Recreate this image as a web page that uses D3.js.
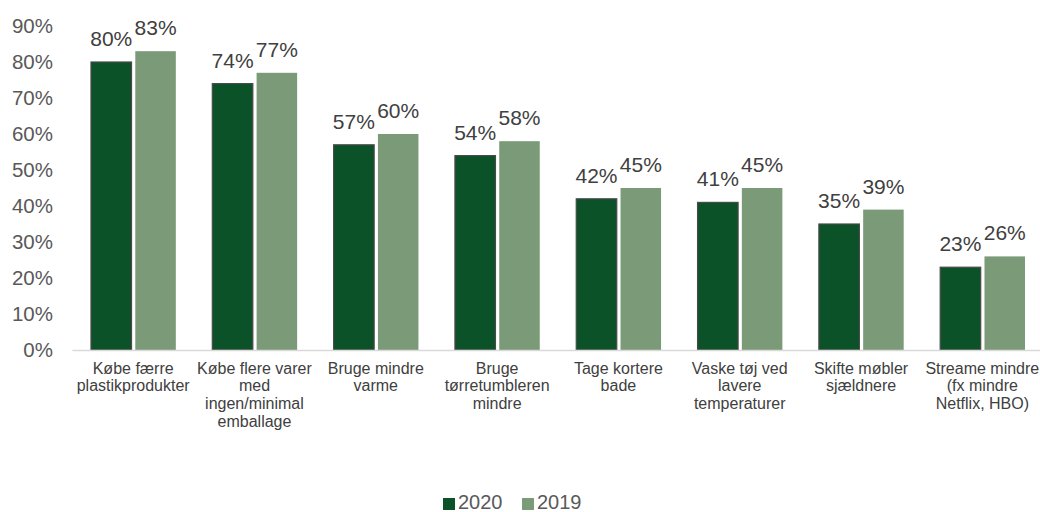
<!DOCTYPE html>
<html>
<head>
<meta charset="utf-8">
<script src="https://cdn.jsdelivr.net/npm/d3@7"></script>
<style>
  html, body { margin: 0; padding: 0; background: #fff; }
  svg { display: block; font-family: "Liberation Sans", Arial, sans-serif; }
</style>
</head>
<body>
<svg id="chart" width="1040" height="512"></svg>
<script>
// Category labels (line breaks as shown under each group)
const categories = [
  ["Købe færre", "plastikprodukter"],
  ["Købe flere varer", "med", "ingen/minimal", "emballage"],
  ["Bruge mindre", "varme"],
  ["Bruge", "tørretumbleren", "mindre"],
  ["Tage kortere", "bade"],
  ["Vaske tøj ved", "lavere", "temperaturer"],
  ["Skifte møbler", "sjældnere"],
  ["Streame mindre", "(fx mindre", "Netflix, HBO)"]
];
const values2020 = [80, 74, 57, 54, 42, 41, 35, 23];
const values2019 = [83, 77, 60, 58, 45, 45, 39, 26];
const seriesNames = ["2020", "2019"];
const yTicks = [0, 10, 20, 30, 40, 50, 60, 70, 80, 90];

const colors = { "2020": "#0b5229", "2019": "#7b9a78" };

const svg = d3.select("#chart");
const plotLeft = 72.5, plotRight = 1043, plotTop = 26, plotBottom = 350;

const x = d3.scaleBand().domain(d3.range(categories.length)).range([plotLeft, plotRight]).paddingInner(0).paddingOuter(0);
const xs = d3.scaleBand().domain(seriesNames).range([18.5, x.bandwidth() - 18]).paddingInner(0.085);
const y = d3.scaleLinear().domain([0, 90]).range([plotBottom, plotTop]);

// Y axis labels
const yAxis = d3.axisLeft(y).tickValues(yTicks).tickFormat(d => d + "%").tickSize(0).tickPadding(0);
const gy = svg.append("g").attr("transform", `translate(53,0)`).call(yAxis);
gy.select(".domain").remove();
gy.selectAll("text").attr("fill", "#595959").style("font-size", "20.5px").style("font-family", "Liberation Sans, Arial, sans-serif");

const data = categories.map((c, i) => ({ i, vals: [
  { s: "2020", v: values2020[i] },
  { s: "2019", v: values2019[i] }
]}));

const groups = svg.append("g").selectAll("g").data(data).join("g")
  .attr("transform", d => `translate(${x(d.i)},0)`);

groups.selectAll("rect").data(d => d.vals).join("rect")
  .attr("x", d => xs(d.s))
  .attr("width", xs.bandwidth())
  .attr("y", d => y(d.v))
  .attr("height", d => y(0) - y(d.v))
  .attr("fill", d => colors[d.s])
  .attr("stroke", d => d.s === "2020" ? "#4a4a4a" : "none")
  .attr("stroke-width", 1.2);

groups.selectAll("text.val").data(d => d.vals).join("text")
  .attr("class", "val")
  .attr("x", d => xs(d.s) + xs.bandwidth() / 2)
  .attr("y", d => y(d.v) - 16)
  .attr("text-anchor", "middle")
  .attr("fill", "#404040")
  .style("font-size", "21px")
  .text(d => d.v + "%");

// Baseline
svg.append("line")
  .attr("x1", plotLeft).attr("x2", plotRight)
  .attr("y1", y(0) + 0.5).attr("y2", y(0) + 0.5)
  .attr("stroke", "#d9d9d9").attr("stroke-width", 1.5);

// Category labels
const xAxisG = svg.append("g");
categories.forEach((lines, i) => {
  const cx = x(i) + x.bandwidth() / 2;
  const t = xAxisG.append("text")
    .attr("x", cx)
    .attr("y", 373.5)
    .attr("text-anchor", "middle")
    .attr("fill", "#404040")
    .style("font-size", "16px");
  lines.forEach((ln, k) => {
    t.append("tspan").attr("x", cx).attr("dy", k === 0 ? 0 : 17.8).text(ln);
  });
});

// Legend
const legend = svg.append("g").attr("transform", "translate(443,0)");
const legendX = [0, 79];
seriesNames.forEach((s, k) => {
  const g = legend.append("g").attr("transform", `translate(${legendX[k]},0)`);
  g.append("rect").attr("x", 0).attr("y", 498).attr("width", 12).attr("height", 12).attr("fill", colors[s]);
  g.append("text").attr("x", 15).attr("y", 509).attr("fill", "#595959").style("font-size", "20px").text(s);
});
</script>
</body>
</html>
